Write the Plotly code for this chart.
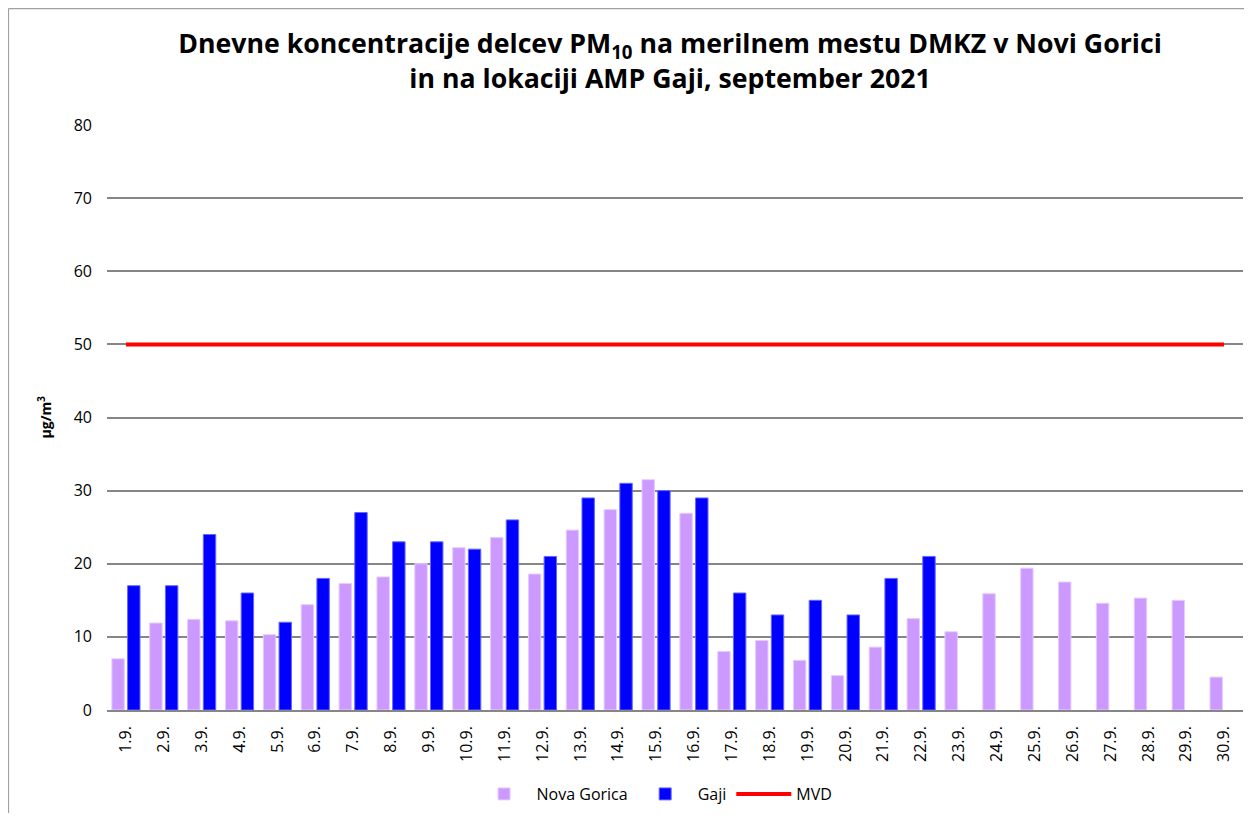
import plotly.graph_objects as go

days = [f"{d}.9." for d in range(1, 31)]
nova_gorica = [7.0, 11.9, 12.4, 12.2, 10.3, 14.4, 17.3, 18.2, 20.0, 22.2,
               23.6, 18.6, 24.6, 27.4, 31.5, 26.9, 8.0, 9.5, 6.8, 4.7,
               8.6, 12.5, 10.7, 15.9, 19.4, 17.5, 14.6, 15.3, 15.0, 4.5]
gaji = [17, 17, 24, 16, 12, 18, 27, 23, 23, 22,
        26, 21, 29, 31, 30, 29, 16, 13, 15, 13,
        18, 21, None, None, None, None, None, None, None, None]
mvd = [50] * 30
y_ticks = [0, 10, 20, 30, 40, 50, 60, 70, 80]

fig = go.Figure()
fig.add_trace(go.Bar(x=days, y=nova_gorica, name="Nova Gorica",
                     marker=dict(color="#CC99FF", line=dict(color="#E6CCFF", width=1))))
fig.add_trace(go.Bar(x=days, y=gaji, name="Gaji",
                     marker=dict(color="#0000FF", line=dict(color="#6666FF", width=1))))
fig.add_trace(go.Scatter(x=days, y=mvd, name="MVD", mode="lines",
                         line=dict(color="#FF0000", width=4)))

fig.update_layout(
    width=1236, height=805,
    paper_bgcolor="white", plot_bgcolor="white",
    margin=dict(l=99, r=1, t=117, b=103, autoexpand=False),
    barmode="group", bargap=0.17, bargroupgap=0.21,
    font=dict(family="Open Sans, sans-serif", color="#000000", size=16),
    title=dict(
        text="<b>Dnevne koncentracije delcev PM<sub>10</sub> na merilnem mestu DMKZ v Novi Gorici<br>in na lokaciji AMP Gaji, september 2021</b>",
        x=0.5356, xanchor="center", y=0.944, yanchor="middle",
        font=dict(family="Open Sans, sans-serif", size=26.7, color="#000000"),
    ),
    showlegend=True,
    legend=dict(orientation="h", x=0.482, xanchor="center", y=-0.1436, yanchor="middle",
                font=dict(size=16), traceorder="normal", itemwidth=55),
    xaxis=dict(type="category", tickangle=-90, showgrid=False, automargin=False,
               showline=True, linecolor="#868686", linewidth=1.5,
               ticks="", tickfont=dict(size=16), ticklabelstandoff=8),
    yaxis=dict(range=[0, 80], tickvals=y_ticks, showgrid=True, automargin=False,
               gridcolor="#868686", gridwidth=1.5, zeroline=False,
               showline=False, ticks="", tickfont=dict(size=16), ticklabelstandoff=14),
    annotations=[dict(text="<b>µg/m<sup>3</sup></b>", textangle=-90,
                      xref="paper", yref="paper", x=0, y=0.5,
                      xanchor="center", yanchor="middle", xshift=-62,
                      showarrow=False, font=dict(size=14))],
    shapes=[
        dict(type="line", xref="paper", yref="paper",
             x0=-0.0867, x1=-0.0867, y0=-0.2, y1=1.199,
             line=dict(color="#A0A0A0", width=1.2), layer="below"),
        dict(type="line", xref="paper", yref="paper",
             x0=-0.0867, x1=1.01, y0=1.199, y1=1.199,
             line=dict(color="#A0A0A0", width=1.2), layer="below"),
    ],
)

fig.write_html("out.html")
